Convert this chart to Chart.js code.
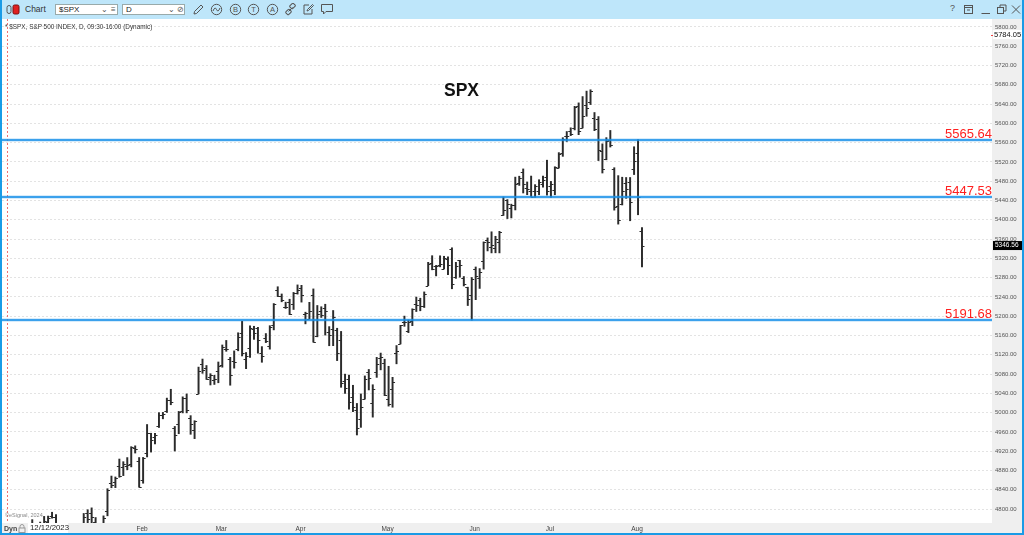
<!DOCTYPE html>
<html>
<head>
<meta charset="utf-8">
<script src="https://cdn.jsdelivr.net/npm/chart.js@4.4.1/dist/chart.umd.min.js"></script>
<style>
  html, body { margin: 0; padding: 0; background: #fff; }
  #win { position: relative; width: 1024px; height: 535px; overflow: hidden; box-sizing: border-box;
         border-left: 2px solid #1a9be6; border-right: 2px solid #1a9be6; border-bottom: 2px solid #1a9be6;
         font-family: "Liberation Sans", Arial, sans-serif; }
  #bar { position: absolute; left: 0; top: 0; width: 1020px; height: 19px; background: #bee6fa; }
  #bar .t { position: absolute; top: 4px; font-size: 8.5px; color: #333; }
  #bar .box { position: absolute; top: 4px; height: 11px; background: #fff; border: 1px solid #9aa; box-sizing: border-box;
              font-size: 8px; color: #222; line-height: 9px; padding-left: 3px; }
  #bar .box span { position: absolute; top: 0; font-size: 8px; color: #555; }
  #bar svg { position: absolute; top: 3px; }
  #chartWrap { position: absolute; left: 0; top: 19px; width: 1020px; height: 514px; }
  #chartWrap canvas { display: block; }
  .ov { position: absolute; white-space: nowrap; }
</style>
</head>
<body>
<div id="win">
  <div id="bar">
    <svg style="left:4px" width="16" height="13" viewBox="0 0 16 13">
      <rect x="1" y="2.5" width="4" height="8" rx="2" fill="none" stroke="#555" stroke-width="1"/>
      <rect x="7" y="2" width="6" height="9" rx="1.5" fill="#e02020" stroke="#7a1010" stroke-width="1"/>
    </svg>
    <span class="t" style="left:23px">Chart</span>
    <div class="box" style="left:53px;width:63px">$SPX<span style="left:45px">&#8964;</span><span style="left:55px">&#8801;</span></div>
    <div class="box" style="left:120px;width:63px">D<span style="left:45px">&#8964;</span><span style="left:54px">&#8856;</span></div>
    <svg style="left:190px" width="13" height="13" viewBox="0 0 13 13"><path d="M2 11 L2.5 8.5 L9 2 L11 4 L4.5 10.5 Z" fill="none" stroke="#555" stroke-width="1"/></svg>
    <svg style="left:208px" width="13" height="13" viewBox="0 0 13 13"><circle cx="6.5" cy="6.5" r="5.2" fill="none" stroke="#555"/><path d="M3 8 Q5 3 6.5 6.5 T10 5" fill="none" stroke="#555"/></svg>
    <svg style="left:227px" width="13" height="13" viewBox="0 0 13 13"><circle cx="6.5" cy="6.5" r="5.2" fill="none" stroke="#555"/><text x="6.5" y="9.3" font-size="7.5" text-anchor="middle" fill="#555" font-family="Liberation Sans">B</text></svg>
    <svg style="left:245px" width="13" height="13" viewBox="0 0 13 13"><circle cx="6.5" cy="6.5" r="5.2" fill="none" stroke="#555"/><text x="6.5" y="9.3" font-size="7.5" text-anchor="middle" fill="#555" font-family="Liberation Sans">T</text></svg>
    <svg style="left:264px" width="13" height="13" viewBox="0 0 13 13"><circle cx="6.5" cy="6.5" r="5.2" fill="none" stroke="#555"/><text x="6.5" y="9.3" font-size="7.5" text-anchor="middle" fill="#555" font-family="Liberation Sans">A</text></svg>
    <svg style="left:282px" width="13" height="13" viewBox="0 0 13 13"><rect x="6" y="1" width="5" height="4" rx="1" transform="rotate(-45 8.5 3)" fill="none" stroke="#555"/><rect x="2" y="7" width="5" height="4" rx="1" transform="rotate(-45 4.5 9)" fill="none" stroke="#555"/><path d="M4.5 8.5 L8.5 4.5" stroke="#555"/></svg>
    <svg style="left:300px" width="13" height="13" viewBox="0 0 13 13"><path d="M7 2 H2 V11 H10 V6" fill="none" stroke="#555"/><path d="M5 8 L5.5 6.5 L10.5 1.5 L11.5 2.5 L6.5 7.5 Z" fill="none" stroke="#555"/></svg>
    <svg style="left:318px" width="14" height="13" viewBox="0 0 14 13"><path d="M1.5 1.5 H12.5 V8.5 H6 L3.5 11 V8.5 H1.5 Z" fill="none" stroke="#555"/></svg>
    <span class="t" style="left:948px;top:3px;font-size:9px;color:#555">?</span>
    <svg style="left:961px" width="12" height="13" viewBox="0 0 12 13"><rect x="1.5" y="2.5" width="8" height="8" fill="none" stroke="#555"/><path d="M1.5 4.5 H9.5 M4 7 H7" stroke="#555"/></svg>
    <svg style="left:978px" width="12" height="13" viewBox="0 0 12 13"><path d="M1.5 10.5 H10" stroke="#555"/></svg>
    <svg style="left:994px" width="12" height="13" viewBox="0 0 12 13"><rect x="1.5" y="4.5" width="6" height="6" fill="none" stroke="#555"/><path d="M4 4.5 V2 H10 V8 H7.5" fill="none" stroke="#555"/></svg>
    <svg style="left:1008px" width="12" height="13" viewBox="0 0 12 13"><path d="M2 2.5 L10 10.5 M10 2.5 L2 10.5" stroke="#555"/></svg>
  </div>
  <div id="chartWrap"><canvas id="c" width="1020" height="514"></canvas></div>
  <div class="ov" style="left:3px;top:23px;font-size:6.4px;color:#333">* $SPX, S&amp;P 500 INDEX, D, 09:30-16:00 (Dynamic)</div>
  <div class="ov" style="left:442px;top:80px;font-size:17.5px;font-weight:bold;color:#111">SPX</div>
  <div class="ov" style="left:3px;top:512px;font-size:5.5px;color:#888">&copy;eSignal, 2024</div>
  <div class="ov" style="left:2px;top:525px;font-size:7px;font-weight:bold;color:#444">Dyn</div>
  <svg class="ov" style="left:16px;top:524px" width="8" height="9" viewBox="0 0 8 9"><path d="M2 4 V2.5 A2 2 0 0 1 6 2.5 V4" fill="none" stroke="#999"/><rect x="1" y="4" width="6" height="4.5" fill="none" stroke="#999"/></svg>
  <div class="ov" style="left:26px;top:523px;width:38px;height:10px;background:#fff;font-size:7.8px;line-height:10px;color:#222;padding-left:2px">12/12/2023</div>
</div>
<script>
// SPX daily bars, 12/12/2023 - 8/2/2024
const dates = [
  '2023-12-12','2023-12-13','2023-12-14','2023-12-15','2023-12-18','2023-12-19','2023-12-20','2023-12-21','2023-12-22','2023-12-26','2023-12-27','2023-12-28','2023-12-29',
  '2024-01-02','2024-01-03','2024-01-04','2024-01-05','2024-01-08','2024-01-09','2024-01-10','2024-01-11','2024-01-12','2024-01-16','2024-01-17','2024-01-18','2024-01-19','2024-01-22','2024-01-23','2024-01-24','2024-01-25','2024-01-26','2024-01-29','2024-01-30','2024-01-31',
  '2024-02-01','2024-02-02','2024-02-05','2024-02-06','2024-02-07','2024-02-08','2024-02-09','2024-02-12','2024-02-13','2024-02-14','2024-02-15','2024-02-16','2024-02-20','2024-02-21','2024-02-22','2024-02-23','2024-02-26','2024-02-27','2024-02-28','2024-02-29',
  '2024-03-01','2024-03-04','2024-03-05','2024-03-06','2024-03-07','2024-03-08','2024-03-11','2024-03-12','2024-03-13','2024-03-14','2024-03-15','2024-03-18','2024-03-19','2024-03-20','2024-03-21','2024-03-22','2024-03-25','2024-03-26','2024-03-27','2024-03-28',
  '2024-04-01','2024-04-02','2024-04-03','2024-04-04','2024-04-05','2024-04-08','2024-04-09','2024-04-10','2024-04-11','2024-04-12','2024-04-15','2024-04-16','2024-04-17','2024-04-18','2024-04-19','2024-04-22','2024-04-23','2024-04-24','2024-04-25','2024-04-26','2024-04-29','2024-04-30',
  '2024-05-01','2024-05-02','2024-05-03','2024-05-06','2024-05-07','2024-05-08','2024-05-09','2024-05-10','2024-05-13','2024-05-14','2024-05-15','2024-05-16','2024-05-17','2024-05-20','2024-05-21','2024-05-22','2024-05-23','2024-05-24','2024-05-28','2024-05-29','2024-05-30','2024-05-31',
  '2024-06-03','2024-06-04','2024-06-05','2024-06-06','2024-06-07','2024-06-10','2024-06-11','2024-06-12','2024-06-13','2024-06-14','2024-06-17','2024-06-18','2024-06-20','2024-06-21','2024-06-24','2024-06-25','2024-06-26','2024-06-27','2024-06-28',
  '2024-07-01','2024-07-02','2024-07-03','2024-07-05','2024-07-08','2024-07-09','2024-07-10','2024-07-11','2024-07-12','2024-07-15','2024-07-16','2024-07-17','2024-07-18','2024-07-19','2024-07-22','2024-07-23','2024-07-24','2024-07-25','2024-07-26','2024-07-29','2024-07-30','2024-07-31',
  '2024-08-01','2024-08-02'
];
const opens = [
  4618.3,4624.3,4721.0,4714.2,4725.6,4743.7,4764.7,4724.3,4753.9,4758.9,4773.5,4786.4,4782.9,
  4745.2,4725.1,4697.4,4690.6,4703.7,4741.9,4759.9,4792.1,4791.2,4772.4,4739.1,4760.1,4796.3,4853.4,4856.8,4888.6,4886.7,4888.9,4892.9,4925.9,4899.2,
  4861.1,4916.1,4957.2,4950.2,4973.1,4995.2,5004.2,5026.8,4967.9,4976.4,5003.1,5031.1,4989.3,4963.0,5038.8,5100.9,5093.0,5074.6,5067.2,5085.4,
  5098.5,5131.0,5110.5,5108.0,5132.4,5164.5,5112.0,5134.3,5173.5,5175.1,5123.3,5154.8,5139.1,5181.7,5253.4,5242.5,5219.5,5228.9,5226.3,5248.0,
  5258.0,5204.3,5194.4,5244.1,5159.0,5211.4,5217.0,5167.9,5173.0,5171.5,5149.7,5064.6,5069.0,5031.5,5005.4,4987.3,5028.9,5084.7,5019.9,5084.7,5114.1,5103.8,
  5029.0,5049.3,5122.8,5142.4,5187.2,5169.0,5189.0,5225.5,5233.1,5221.1,5263.3,5310.1,5303.1,5305.4,5298.7,5319.3,5340.3,5281.5,5315.9,5278.7,5259.8,5243.2,
  5297.2,5278.2,5314.5,5357.8,5343.8,5341.2,5353.0,5409.1,5441.9,5424.1,5431.1,5476.2,5500.0,5466.8,5459.6,5460.7,5460.7,5473.6,5488.5,
  5471.1,5461.8,5507.4,5537.9,5572.9,5584.2,5591.3,5635.2,5590.8,5638.2,5644.1,5610.1,5608.6,5543.4,5526.5,5565.3,5505.8,5428.7,5433.7,5476.6,5478.7,5505.6,
  5537.8,5376.6
];
const highs = [
  4633.6,4709.7,4738.6,4725.5,4749.5,4768.7,4778.0,4748.7,4772.9,4784.7,4785.4,4793.3,4788.4,
  4754.3,4729.3,4726.8,4721.5,4764.5,4765.5,4790.8,4798.5,4802.4,4782.3,4744.2,4785.8,4842.1,4868.4,4866.5,4903.7,4898.2,4906.7,4929.3,4931.1,4906.8,
  4907.0,4975.3,4957.2,4957.2,4999.9,5000.4,5030.1,5048.4,4971.3,5002.5,5032.7,5038.7,4993.7,4983.2,5094.4,5111.1,5097.7,5080.7,5077.4,5105.0,
  5140.3,5149.7,5114.6,5128.0,5165.6,5189.3,5124.7,5179.9,5179.1,5176.9,5136.9,5164.0,5180.3,5226.2,5261.1,5246.1,5229.1,5235.2,5249.3,5264.9,
  5264.0,5208.3,5228.8,5256.6,5222.2,5219.6,5224.8,5178.4,5211.8,5175.0,5168.4,5079.8,5078.0,5056.7,5019.0,5038.8,5076.1,5089.5,5057.8,5114.6,5123.5,5110.8,
  5096.1,5073.2,5139.1,5181.0,5200.2,5192.0,5215.3,5239.7,5237.3,5250.4,5311.8,5325.5,5305.4,5325.3,5324.3,5323.2,5341.9,5311.7,5315.9,5282.3,5260.2,5280.3,
  5302.1,5298.8,5354.2,5362.4,5375.1,5365.8,5376.0,5447.3,5441.9,5432.4,5488.5,5490.4,5505.5,5478.3,5490.7,5472.9,5483.1,5490.8,5523.6,
  5479.6,5510.0,5539.3,5570.3,5583.1,5590.8,5635.4,5642.5,5655.6,5666.9,5669.7,5622.5,5614.1,5557.5,5570.4,5585.3,5508.0,5491.6,5488.3,5487.7,5487.7,5551.5,
  5566.2,5383.9
];
const lows = [
  4599.4,4614.2,4694.3,4704.7,4725.6,4743.7,4697.8,4708.4,4736.8,4758.5,4768.9,4781.0,4752.0,
  4722.7,4699.7,4687.5,4682.1,4699.8,4730.4,4756.2,4739.6,4769.0,4747.1,4714.8,4740.6,4785.9,4844.1,4844.4,4865.9,4869.3,4881.5,4887.4,4916.1,4845.2,
  4853.5,4908.0,4918.1,4934.9,4969.1,4987.1,5000.3,5016.3,4920.3,4956.2,4999.4,4999.5,4955.0,4946.0,5038.8,5081.5,5068.9,5057.3,5058.4,5061.9,
  5094.2,5127.2,5056.8,5092.2,5128.2,5117.5,5091.1,5114.5,5151.9,5123.3,5104.4,5145.2,5131.6,5171.6,5240.7,5229.9,5216.1,5203.4,5213.9,5245.8,
  5229.2,5184.1,5194.4,5146.1,5157.2,5197.4,5160.8,5138.7,5138.8,5107.9,5052.5,5039.8,5007.3,5001.9,4953.6,4969.4,5028.0,5047.0,4990.6,5073.1,5088.7,5035.3,
  5013.5,5011.1,5101.2,5142.4,5179.0,5165.9,5180.4,5209.7,5211.2,5218.0,5263.3,5296.2,5283.6,5302.4,5297.9,5286.0,5256.9,5278.4,5280.9,5262.7,5222.1,5191.7,
  5234.3,5257.6,5297.6,5335.4,5331.3,5331.5,5331.3,5409.1,5402.5,5403.8,5420.4,5471.3,5455.6,5452.0,5447.6,5446.6,5451.9,5467.5,5451.1,
  5446.5,5451.9,5507.4,5531.6,5562.5,5574.6,5586.4,5576.5,5590.4,5614.8,5639.0,5584.8,5522.8,5497.0,5524.4,5550.9,5420.0,5391.0,5430.7,5444.4,5398.0,5493.8,
  5410.4,5302.0
];
const closes = [
  4622.4,4707.1,4719.6,4719.2,4740.6,4768.4,4698.4,4746.8,4754.6,4774.8,4781.6,4783.4,4769.8,
  4742.8,4704.8,4688.7,4697.2,4763.5,4756.5,4783.5,4780.2,4783.8,4766.0,4739.2,4780.9,4839.8,4850.4,4864.6,4868.6,4894.2,4891.0,4927.9,4925.0,4845.7,
  4906.2,4958.6,4942.8,4954.2,4995.1,4997.9,5026.6,5021.8,4953.2,5000.6,5029.7,5005.6,4975.5,4981.8,5087.0,5088.8,5069.5,5078.2,5069.8,5096.3,
  5137.1,5131.0,5078.7,5104.8,5157.4,5123.7,5117.9,5175.3,5165.3,5150.5,5117.1,5149.4,5178.5,5224.6,5241.5,5234.2,5218.2,5203.6,5248.5,5254.4,
  5243.8,5205.8,5211.5,5147.2,5204.3,5202.4,5209.9,5160.6,5199.1,5123.4,5061.8,5051.4,5022.2,5011.1,4967.2,5010.6,5070.6,5071.6,5048.4,5100.0,5116.2,5035.7,
  5018.4,5064.2,5127.8,5180.7,5187.7,5187.7,5214.1,5222.7,5221.4,5246.7,5308.2,5297.1,5303.3,5308.1,5321.4,5307.0,5267.8,5304.7,5306.0,5267.0,5235.5,5277.5,
  5283.4,5291.3,5354.0,5353.0,5347.0,5360.8,5375.3,5421.0,5433.7,5431.6,5473.2,5487.0,5473.2,5464.6,5447.9,5469.3,5477.9,5482.9,5460.5,
  5475.1,5509.0,5537.0,5567.2,5572.9,5577.0,5633.9,5584.5,5615.4,5631.2,5667.2,5588.3,5544.6,5505.0,5564.4,5555.7,5427.1,5399.2,5459.1,5463.5,5436.4,5522.3,
  5446.7,5346.56
];
const levels = [5565.64, 5447.53, 5191.68];
const cursorValue = 5784.05;
const monthNames = ['Jan','Feb','Mar','Apr','May','Jun','Jul','Aug','Sep','Oct','Nov','Dec'];
const shownMonths = ['Feb','Mar','Apr','May','Jun','Jul','Aug'];

const barColor = '#2b2b2b';
const levelColor = '#168fe8';

// first trading day of each shown month -> bar index
const monthStarts = [];
dates.forEach((d, i) => {
  const m = monthNames[parseInt(d.slice(5, 7), 10) - 1];
  if (i > 0 && d.slice(5, 7) !== dates[i - 1].slice(5, 7) && shownMonths.indexOf(m) >= 0) {
    monthStarts.push({ index: i, label: m });
  }
});

const frame = {
  id: 'frame',
  beforeDraw(chart) {
    const { ctx, chartArea: a, width, height } = chart;
    ctx.save();
    ctx.fillStyle = '#efefef';
    ctx.fillRect(0, 0, width, height);
    ctx.fillStyle = '#ffffff';
    ctx.fillRect(a.left, 0, a.right - a.left, a.bottom);
    ctx.restore();
  },
  beforeDatasetsDraw(chart) {
    const { ctx, chartArea: a, scales: { x } } = chart;
    const cx = Math.round(x.getPixelForValue(-0.4)) + 0.5;
    ctx.save();
    ctx.strokeStyle = '#f07070';
    ctx.lineWidth = 1;
    ctx.setLineDash([2, 2]);
    ctx.beginPath();
    ctx.moveTo(cx, 0);
    ctx.lineTo(cx, a.bottom);
    ctx.stroke();
    ctx.restore();
  },
  afterDraw(chart) {
    // month labels in the bottom band
    const { ctx, chartArea: a, scales: { x } } = chart;
    ctx.save();
    ctx.fillStyle = '#444';
    ctx.font = '6.5px "Liberation Sans", Arial, sans-serif';
    ctx.textAlign = 'center';
    ctx.textBaseline = 'middle';
    monthStarts.forEach(m => {
      ctx.fillText(m.label, x.getPixelForValue(m.index) - 1, a.bottom + 6);
    });
    ctx.restore();
  }
};

const ohlcTicks = {
  id: 'ohlcTicks',
  afterDatasetsDraw(chart) {
    const { ctx, chartArea: a, scales: { x, y } } = chart;
    ctx.save();
    ctx.beginPath();
    ctx.rect(a.left, a.top, a.right - a.left, a.bottom - a.top);
    ctx.clip();
    ctx.strokeStyle = barColor;
    ctx.lineWidth = 1;
    dates.forEach((d, i) => {
      const px = x.getPixelForValue(i);
      const yo = Math.round(y.getPixelForValue(opens[i])) + 0.5;
      const yc = Math.round(y.getPixelForValue(closes[i])) + 0.5;
      ctx.beginPath();
      ctx.moveTo(px - 2.5, yo); ctx.lineTo(px, yo);
      ctx.moveTo(px, yc); ctx.lineTo(px + 2.5, yc);
      ctx.stroke();
    });

    // support / resistance levels
    levels.forEach(v => {
      const ly = Math.round(y.getPixelForValue(v));
      ctx.strokeStyle = 'rgba(22,143,232,0.35)';
      ctx.lineWidth = 3;
      ctx.beginPath(); ctx.moveTo(a.left, ly); ctx.lineTo(a.right, ly); ctx.stroke();
      ctx.strokeStyle = levelColor;
      ctx.lineWidth = 1.5;
      ctx.beginPath(); ctx.moveTo(a.left, ly); ctx.lineTo(a.right, ly); ctx.stroke();
      ctx.fillStyle = '#ff1f1f';
      ctx.font = '13px "Liberation Sans", Arial, sans-serif';
      ctx.textAlign = 'right';
      ctx.textBaseline = 'alphabetic';
      ctx.fillText(v.toFixed(2), a.right, ly - 2);
    });
    ctx.restore();

    // price markers on the axis
    ctx.save();
    ctx.font = '6.5px "Liberation Sans", Arial, sans-serif';
    ctx.textBaseline = 'middle';
    ctx.textAlign = 'left';
    const last = closes[closes.length - 1];
    const ly = y.getPixelForValue(last);
    ctx.fillStyle = '#000';
    ctx.fillRect(a.right + 1, ly - 4.5, 29, 9);
    ctx.fillStyle = '#fff';
    ctx.fillText(last.toFixed(2), a.right + 3, ly);
    const cy = y.getPixelForValue(cursorValue);
    ctx.fillStyle = '#fff';
    ctx.fillRect(a.right + 1, cy - 4.5, 29, 9);
    ctx.fillStyle = '#111';
    ctx.font = '7.5px "Liberation Sans", Arial, sans-serif';
    ctx.fillText(cursorValue.toFixed(2), a.right + 2, cy);
    ctx.fillStyle = '#f04040';
    ctx.fillRect(a.right - 1, Math.round(cy), 2, 1);
    ctx.restore();
  }
};

new Chart(document.getElementById('c'), {
  type: 'bar',
  data: {
    datasets: [{
      label: 'SPX',
      data: dates.map((d, i) => ({ x: i, y: [lows[i], highs[i]] })),
      backgroundColor: barColor,
      borderWidth: 0,
      barThickness: 1.3
    }]
  },
  options: {
    responsive: false,
    animation: false,
    devicePixelRatio: 1,
    layout: { padding: 0, autoPadding: false },
    plugins: { legend: { display: false }, tooltip: { enabled: false } },
    scales: {
      x: {
        type: 'linear',
        offset: false,
        min: -1.64,
        max: 248.4,
        grid: { display: false },
        border: { display: false },
        afterFit: s => { s.height = 10; s.paddingLeft = 0; s.paddingRight = 0; },
        ticks: { display: false }
      },
      y: {
        position: 'right',
        min: 4771,
        max: 5816.5,
        border: { display: false, dash: [2, 2] },
        grid: { color: '#e3e3e3', drawTicks: false, tickLength: 0 },
        afterBuildTicks: s => {
          const t = [];
          for (let v = 4800; v <= 5800; v += 40) t.push({ value: v });
          s.ticks = t;
        },
        afterFit: s => { s.width = 30; s.paddingTop = 0; s.paddingBottom = 0; },
        ticks: {
          padding: 3,
          color: '#555',
          font: { size: 6, family: '"Liberation Sans", Arial, sans-serif' },
          callback: v => v.toFixed(2)
        }
      }
    }
  },
  plugins: [frame, ohlcTicks]
});
</script>
</body>
</html>
